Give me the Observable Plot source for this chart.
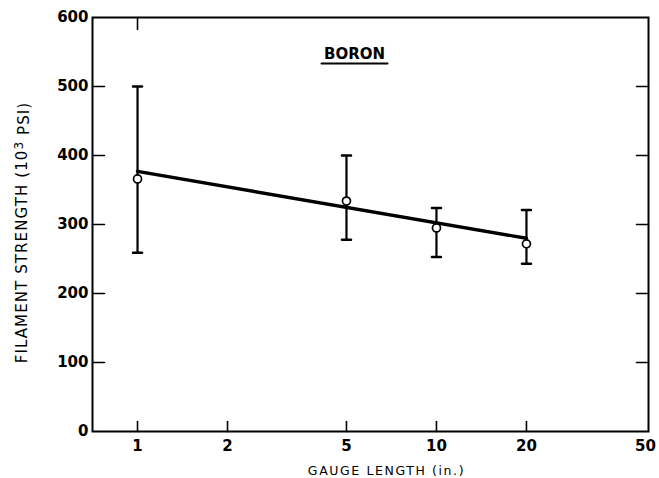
<!DOCTYPE html>
<html><head><meta charset="utf-8">
<script src="https://cdn.jsdelivr.net/npm/d3@7"></script>
<script src="https://cdn.jsdelivr.net/npm/@observablehq/plot@0.6"></script>
<style>body{margin:0;background:#fff}</style>
</head><body><div id="chart"></div>
<script>
// ---- data ----
const gaugeLength  = [1, 5, 10, 20];
const strengthMean = [366, 334, 295, 272];
const strengthHigh = [500, 400, 324, 321];
const strengthLow  = [259, 278, 253, 243];
const fitLength    = [1, 20];
const fitStrength  = [377, 280];
const xTicks = [1, 2, 5, 10, 20, 50];
const xInnerTicks = [1, 2, 5, 10, 20];
const xTopTicks = [1];
const yTicks = [0, 100, 200, 300, 400, 500, 600];
const yInnerTicks = [100, 200, 300, 400, 500];
const titleText = "BORON";
const xLabel = "GAUGE LENGTH (in.)";
const yLabelMain = "FILAMENT STRENGTH (10";
const yLabelSup = "3";
const yLabelEnd = " PSI)";
const yLabel = yLabelMain + yLabelSup + yLabelEnd;

const points = gaugeLength.map((g, i) => ({g, mean: strengthMean[i], hi: strengthHigh[i], lo: strengthLow[i]}));
const fit = fitLength.map((g, i) => ({g, s: fitStrength[i]}));
const seg = {draw(ctx, l) { ctx.moveTo(0, 0); ctx.lineTo(0, -l); }};
const font = "DejaVu Sans";

const chart = Plot.plot({
  width: 659,
  height: 478,
  marginLeft: 92,
  marginRight: 11,
  marginTop: 17,
  marginBottom: 47,
  style: {fontFamily: font, background: "#fff", color: "#000"},
  x: {type: "log", domain: [0.707, 51.2], axis: null},
  y: {domain: [0, 600], axis: null},
  marks: [
    Plot.axisY({ticks: yTicks, tickSize: 0, tickPadding: 4, label: null, fontSize: 15, fontWeight: "bold", fontFamily: font}),
    Plot.axisX({ticks: xTicks, tickFormat: d => String(d), tickSize: 0, tickPadding: 9, label: null, fontSize: 15, fontWeight: "bold", fontFamily: font}),
    Plot.vector(yInnerTicks, {y: d => d, frameAnchor: "left", rotate: 90, length: 12, anchor: "start", shape: seg, stroke: "black", strokeWidth: 1.6}),
    Plot.vector(yInnerTicks, {y: d => d, frameAnchor: "right", rotate: -90, length: 12, anchor: "start", shape: seg, stroke: "black", strokeWidth: 1.6}),
    Plot.vector(xInnerTicks, {x: d => d, frameAnchor: "bottom", rotate: 0, length: 10, anchor: "start", shape: seg, stroke: "black", strokeWidth: 1.6}),
    Plot.vector(xTopTicks, {x: d => d, frameAnchor: "top", rotate: 180, length: 12, anchor: "start", shape: seg, stroke: "black", strokeWidth: 1.6}),
    Plot.frame({stroke: "black", strokeWidth: 2}),
    Plot.ruleX(points, {x: "g", y1: "lo", y2: "hi", stroke: "black", strokeWidth: 2.2}),
    Plot.vector(points, {x: "g", y: "hi", rotate: 90, length: 9, anchor: "middle", shape: seg, stroke: "black", strokeWidth: 2.5}),
    Plot.vector(points, {x: "g", y: "lo", rotate: 90, length: 9, anchor: "middle", shape: seg, stroke: "black", strokeWidth: 2.5}),
    Plot.line(fit, {x: "g", y: "s", stroke: "black", strokeWidth: 3.4}),
    Plot.dot(points, {x: "g", y: "mean", r: 4, fill: "white", stroke: "black", strokeWidth: 1.7}),
    Plot.text([titleText], {frameAnchor: "top", dx: -16, dy: 37, lineAnchor: "middle", fontSize: 15, fontWeight: "bold", fontFamily: font}),
    Plot.vector([titleText], {frameAnchor: "top", dx: -16, dy: 46, rotate: 90, length: 66, anchor: "middle", shape: seg, stroke: "black", strokeWidth: 2}),
    Plot.text([yLabel], {frameAnchor: "left", dx: -70, dy: 8, rotate: -90, lineAnchor: "middle", textAnchor: "middle", fontSize: 15, fontFamily: font}),
    Plot.text([xLabel], {frameAnchor: "bottom", dx: 16, dy: 39, lineAnchor: "middle", textAnchor: "middle", fontSize: 12.5, fontFamily: font})
  ]
});
d3.select(chart).selectAll("text").filter(function() { return this.textContent === yLabel; })
  .style("letter-spacing", "1.1px")
  .each(function() {
    const t = d3.select(this);
    t.text(null);
    t.append("tspan").text(yLabelMain);
    t.append("tspan").attr("dy", "-0.4em").attr("font-size", 12).text(yLabelSup);
    t.append("tspan").attr("dy", "0.4em").text(yLabelEnd);
  });
d3.select(chart).selectAll("text").filter(function() { return this.textContent === xLabel; }).style("letter-spacing", "1.6px");
document.getElementById("chart").appendChild(chart);
</script>
</body></html>
